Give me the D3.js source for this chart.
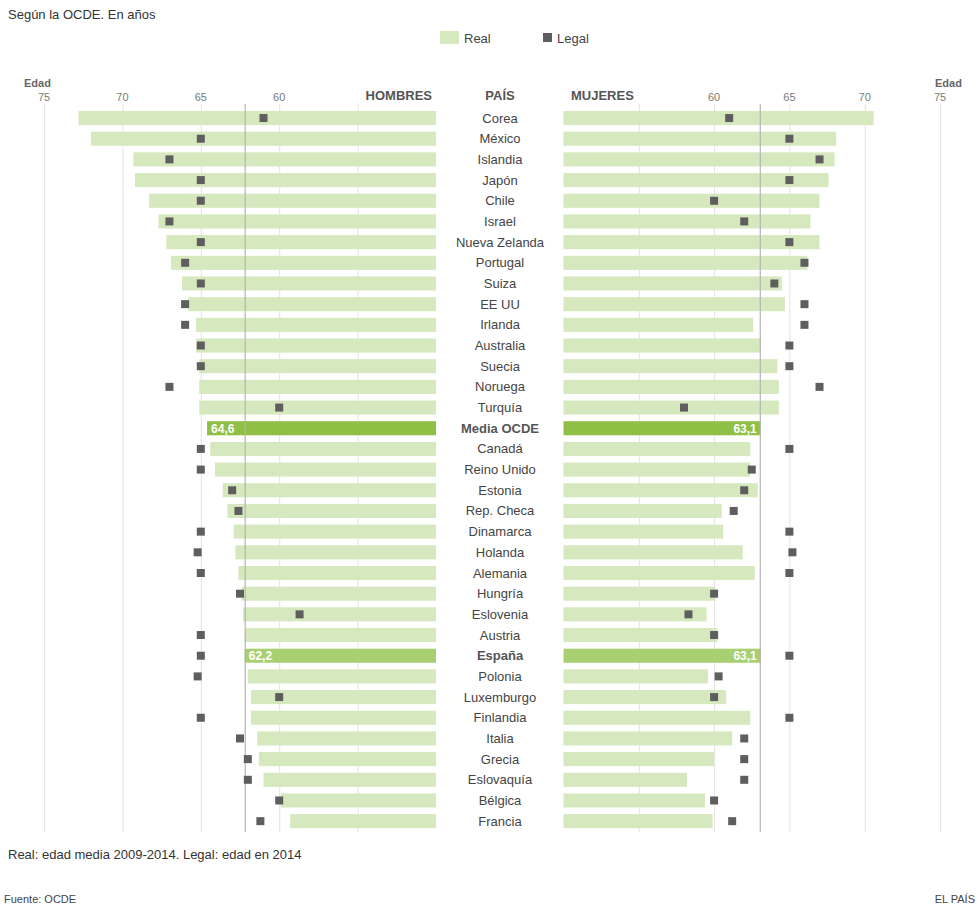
<!DOCTYPE html>
<meta charset="utf-8">
<script src="https://cdn.jsdelivr.net/npm/d3@7/dist/d3.min.js"></script>
<style>
    body { margin: 0; background: #fff; }
    svg text { font-family: "Liberation Sans", Arial, sans-serif; }
</style>
<svg width="980" height="907" class="chart"></svg>
<script>

var countries = ['Corea', 'México', 'Islandia', 'Japón', 'Chile', 'Israel', 'Nueva Zelanda', 'Portugal',
    'Suiza', 'EE UU', 'Irlanda', 'Australia', 'Suecia', 'Noruega', 'Turquía', 'Media OCDE', 'Canadá',
    'Reino Unido', 'Estonia', 'Rep. Checa', 'Dinamarca', 'Holanda', 'Alemania', 'Hungría', 'Eslovenia',
    'Austria', 'España', 'Polonia', 'Luxemburgo', 'Finlandia', 'Italia', 'Grecia', 'Eslovaquía',
    'Bélgica', 'Francia'];

// hombres
var menReal = [72.8, 72.0, 69.3, 69.2, 68.3, 67.7, 67.2, 66.9, 66.2, 65.8, 65.3, 65.3, 65.1, 65.1, 65.1,
    64.6, 64.4, 64.1, 63.6, 63.3, 62.9, 62.8, 62.6, 62.4, 62.3, 62.2, 62.2, 62.0, 61.8, 61.8, 61.4, 61.3,
    61.0, 59.9, 59.3];
var menLegal = [61, 65, 67, 65, 65, 67, 65, 66, 65, 66, 66, 65, 65, 67, 60,
    null, 65, 65, 63, 62.6, 65, 65.2, 65, 62.5, 58.7, 65, 65, 65.2, 60, 65, 62.5, 62,
    62, 60, 61.2];

// mujeres
var womenReal = [70.6, 68.1, 68.0, 67.6, 67.0, 66.4, 67.0, 66.2, 64.5, 64.7, 62.6, 63.1, 64.2, 64.3, 64.3,
    63.1, 62.4, 62.4, 62.9, 60.5, 60.6, 61.9, 62.7, 60.1, 59.5, 60.2, 63.1, 59.6, 60.8, 62.4, 61.2, 60.0,
    58.2, 59.4, 59.9];
var womenLegal = [61, 65, 67, 65, 60, 62, 65, 66, 64, 66, 66, 65, 65, 67, 58,
    null, 65, 62.5, 62, 61.3, 65, 65.2, 65, 60, 58.3, 60, 65, 60.3, 60, 65, 62, 62,
    62, 60, 61.2];

var ticks = [75, 70, 65, 60, 55];
var tickLabels = [75, 70, 65, 60];
var spainIdx = countries.indexOf('España');

var colReal = '#d6e8bd', colMedia = '#8fbf45', colSpain = '#a9d070', colLegal = '#5e5e5e';

var svg = d3.select('svg.chart');

var y = d3.scaleBand()
    .domain(countries)
    .range([107.7, 831.5])
    .paddingInner(0.32)
    .paddingOuter(0.16);

var xL = d3.scaleLinear().domain([50, 75]).range([436, 44]);
var xR = d3.scaleLinear().domain([50, 75]).range([563.5, 940]);

function barColor(d, i) {
    if (countries[i] === 'Media OCDE') return colMedia;
    if (i === spainIdx) return colSpain;
    return colReal;
}

// gridlines
var grid = svg.append('g');
[xL, xR].forEach(function (sc) {
    grid.selectAll(null)
        .data(ticks)
        .enter()
        .append('line')
        .attr('x1', function (d) { return sc(d) + 0.5; })
        .attr('x2', function (d) { return sc(d) + 0.5; })
        .attr('y1', 104)
        .attr('y2', 832)
        .attr('stroke', '#e3e3e3');
});

// tick labels
svg.append('g').selectAll('text')
    .data(tickLabels)
    .enter()
    .append('text')
    .attr('x', function (d) { return xL(d); })
    .attr('y', 101)
    .attr('text-anchor', 'middle')
    .style('font-size', '11px')
    .style('fill', '#7a7a7a')
    .text(function (d) { return d; });

svg.append('g').selectAll('text')
    .data(tickLabels.slice().reverse())
    .enter()
    .append('text')
    .attr('x', function (d) { return xR(d); })
    .attr('y', 101)
    .attr('text-anchor', 'middle')
    .style('font-size', '11px')
    .style('fill', '#7a7a7a')
    .text(function (d) { return d; });

svg.append('text').attr('x', 24).attr('y', 87)
    .style('font-size', '11px').style('font-weight', 'bold').style('fill', '#666').text('Edad');
svg.append('text').attr('x', 935).attr('y', 87)
    .style('font-size', '11px').style('font-weight', 'bold').style('fill', '#666').text('Edad');

svg.append('text').attr('x', 432).attr('y', 100).attr('text-anchor', 'end')
    .style('font-size', '13px').style('font-weight', 'bold').style('fill', '#555').text('HOMBRES');
svg.append('text').attr('x', 500).attr('y', 100).attr('text-anchor', 'middle')
    .style('font-size', '13px').style('font-weight', 'bold').style('fill', '#555').text('PAÍS');
svg.append('text').attr('x', 571).attr('y', 100)
    .style('font-size', '13px').style('font-weight', 'bold').style('fill', '#555').text('MUJERES');

// bars
svg.append('g').selectAll('rect')
    .data(menReal)
    .enter()
    .append('rect')
    .attr('x', function (d) { return xL(d); })
    .attr('y', function (d, i) { return y(countries[i]); })
    .attr('width', function (d) { return xL(50) - xL(d); })
    .attr('height', y.bandwidth())
    .attr('fill', barColor);

svg.append('g').selectAll('rect')
    .data(womenReal)
    .enter()
    .append('rect')
    .attr('x', xR(50))
    .attr('y', function (d, i) { return y(countries[i]); })
    .attr('width', function (d) { return xR(d) - xR(50); })
    .attr('height', y.bandwidth())
    .attr('fill', barColor);

// reference lines at Spain's values
svg.append('line')
    .attr('x1', xL(menReal[spainIdx]) + 0.5).attr('x2', xL(menReal[spainIdx]) + 0.5)
    .attr('y1', 104).attr('y2', 832)
    .attr('stroke', '#b5b5b5').attr('stroke-width', 1.2);
svg.append('line')
    .attr('x1', xR(womenReal[spainIdx]) - 0.5).attr('x2', xR(womenReal[spainIdx]) - 0.5)
    .attr('y1', 104).attr('y2', 832)
    .attr('stroke', '#b5b5b5').attr('stroke-width', 1.2);

// value labels on highlighted bars
[countries.indexOf('Media OCDE'), spainIdx].forEach(function (i) {
    svg.append('text')
        .attr('x', xL(menReal[i]) + 4)
        .attr('y', y(countries[i]) + y.bandwidth() / 2 + 4.5)
        .style('font-size', '12px').style('font-weight', 'bold').style('fill', '#fff')
        .text(d3.format('.1f')(menReal[i]).replace('.', ','));
    svg.append('text')
        .attr('x', xR(womenReal[i]) - 4)
        .attr('y', y(countries[i]) + y.bandwidth() / 2 + 4.5)
        .attr('text-anchor', 'end')
        .style('font-size', '12px').style('font-weight', 'bold').style('fill', '#fff')
        .text(d3.format('.1f')(womenReal[i]).replace('.', ','));
});

// legal markers
var ms = 8;
svg.append('g').selectAll('rect')
    .data(menLegal.map(function (v, i) { return { v: v, c: countries[i] }; }).filter(function (d) { return d.v !== null; }))
    .enter()
    .append('rect')
    .attr('x', function (d) { return xL(d.v) - ms / 2; })
    .attr('y', function (d) { return y(d.c) + y.bandwidth() / 2 - ms / 2; })
    .attr('width', ms).attr('height', ms)
    .attr('fill', colLegal);

svg.append('g').selectAll('rect')
    .data(womenLegal.map(function (v, i) { return { v: v, c: countries[i] }; }).filter(function (d) { return d.v !== null; }))
    .enter()
    .append('rect')
    .attr('x', function (d) { return xR(d.v) - ms / 2; })
    .attr('y', function (d) { return y(d.c) + y.bandwidth() / 2 - ms / 2; })
    .attr('width', ms).attr('height', ms)
    .attr('fill', colLegal);

// country names
svg.append('g').selectAll('text')
    .data(countries)
    .enter()
    .append('text')
    .attr('x', 500)
    .attr('y', function (d) { return y(d) + y.bandwidth() / 2 + 4.5; })
    .attr('text-anchor', 'middle')
    .style('font-size', '13px')
    .style('font-weight', function (d) { return (d === 'Media OCDE' || d === 'España') ? 'bold' : 'normal'; })
    .style('fill', function (d) { return (d === 'Media OCDE' || d === 'España') ? '#555' : '#444'; })
    .text(function (d) { return d; });

// title + legend
svg.append('text').attr('x', 8).attr('y', 19)
    .style('font-size', '13px').style('fill', '#333').text('Según la OCDE. En años');

svg.append('rect').attr('x', 440).attr('y', 31).attr('width', 19).attr('height', 13).attr('fill', colReal);
svg.append('text').attr('x', 464).attr('y', 43)
    .style('font-size', '13px').style('fill', '#444').text('Real');
svg.append('rect').attr('x', 543).attr('y', 33).attr('width', 9).attr('height', 9).attr('fill', colLegal);
svg.append('text').attr('x', 557).attr('y', 43)
    .style('font-size', '13px').style('fill', '#444').text('Legal');

// notes
svg.append('text').attr('x', 8).attr('y', 859)
    .style('font-size', '13px').style('fill', '#333').text('Real: edad media 2009-2014. Legal: edad en 2014');
svg.append('text').attr('x', 4).attr('y', 903)
    .style('font-size', '11px').style('fill', '#444').text('Fuente: OCDE');
svg.append('text').attr('x', 975).attr('y', 903).attr('text-anchor', 'end')
    .style('font-size', '11px').style('fill', '#444').text('EL PAÍS');

</script>
